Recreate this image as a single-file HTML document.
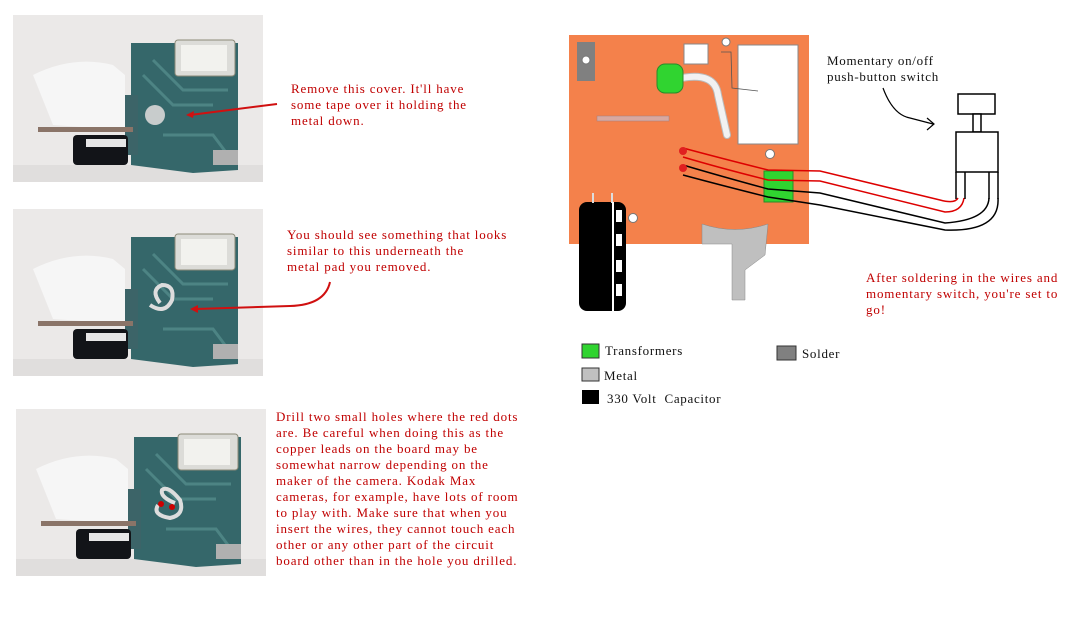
<!DOCTYPE html>
<html><head><meta charset="utf-8"><style>
body{margin:0;width:1083px;height:630px;background:#fff;overflow:hidden;position:relative;font-family:"Liberation Serif",serif;}
.t{position:absolute;font-size:13px;letter-spacing:0.85px;line-height:16px;color:#c00000;white-space:nowrap;}
.k{position:absolute;font-size:13px;letter-spacing:0.7px;color:#111;white-space:nowrap;}
</style></head><body>
<svg width="1083" height="630" style="position:absolute;left:0;top:0">
<defs>
<g id="ph">
<rect width="250" height="167" fill="#ebe9e8"/>
<path d="M20 60 Q60 40 100 50 L112 60 L112 115 L40 110 Z" fill="#f6f6f6"/>
<path d="M0 150 L250 150 L250 167 L0 167Z" fill="#e0dedd"/>
<path d="M118 28 L225 28 L225 155 L180 158 L118 150 Z" fill="#35676a"/>
<path d="M112 80 L125 80 L125 140 L112 140Z" fill="#3c6468"/>
<rect x="162" y="25" width="60" height="36" rx="3" fill="#dcdcd8" stroke="#8c8a78"/>
<rect x="168" y="30" width="46" height="26" fill="#f2f2ee"/>
<path d="M130 60 L160 90 L200 90 M140 45 L170 75 L215 75 M150 120 L200 120 L215 140" stroke="#4d8484" stroke-width="3" fill="none"/>
<rect x="25" y="112" width="95" height="5" fill="#8a7468"/>
<rect x="60" y="120" width="55" height="30" rx="4" fill="#121418"/>
<rect x="73" y="124" width="40" height="8" fill="#e6e6e6"/>
<rect x="200" y="135" width="25" height="15" fill="#b0b0b0"/>
</g>
</defs>
<use href="#ph" x="13" y="15"/>
<circle cx="155" cy="115" r="10" fill="#c8cccc"/>
<path d="M277 104 L190 115" stroke="#d01010" stroke-width="2"/>
<path d="M186 115 L194 111 L193 118Z" fill="#d01010"/>
<use href="#ph" x="13" y="209"/>
<path d="M160 303 Q150 290 162 285 Q175 285 172 300 Q165 315 150 305" stroke="#ddd" stroke-width="4" fill="none"/>
<path d="M330 282 Q325 305 290 306 L195 309" stroke="#d01010" stroke-width="2" fill="none"/>
<path d="M190 309 L198 305 L198 313Z" fill="#d01010"/>
<use href="#ph" x="16" y="409"/>
<path d="M175 503 Q160 497 162 490 Q168 485 180 500 Q185 515 170 518 Q152 515 158 505" stroke="#ddd" stroke-width="4" fill="none"/>
<circle cx="161" cy="504" r="3" fill="#c00"/><circle cx="172" cy="507" r="3" fill="#c00"/>

<path d="M569 35 L809 35 L809 244 L569 244 Z" fill="#f4814b"/>
<rect x="577" y="42" width="18" height="39" fill="#808080"/>
<circle cx="586" cy="60" r="4" fill="#fff" stroke="#777"/>
<rect x="684" y="44" width="24" height="20" fill="#fff" stroke="#888"/>
<rect x="738" y="45" width="60" height="99" fill="#fff" stroke="#888"/>
<path d="M721 52 L731 52 L732 88 L758 91" stroke="#555" stroke-width="0.8" fill="none"/>
<path d="M682 78 Q715 72 718 95 L727 135" stroke="#bbb" stroke-width="8" stroke-linecap="round" fill="none"/>
<path d="M682 78 Q715 72 718 95 L727 135" stroke="#f2f2f2" stroke-width="6" stroke-linecap="round" fill="none"/>
<rect x="657" y="64" width="26" height="29" rx="8" fill="#30d430" stroke="#2a8a2a"/>
<rect x="597" y="116" width="72" height="5" fill="#d8a8a0" stroke="#a08080" stroke-width="0.5"/>
<circle cx="726" cy="42" r="4" fill="#fff" stroke="#777"/>
<circle cx="770" cy="154" r="4.5" fill="#fff" stroke="#777"/>
<circle cx="633" cy="218" r="4.5" fill="#fff" stroke="#777"/>
<path d="M702 224 Q735 235 768 224 L765 255 L745 270 L745 300 L732 300 L732 244 L702 244Z" fill="#bfbfbf" stroke="#888" stroke-width="0.5"/>
<rect x="764" y="171" width="29" height="31" fill="#30d430" stroke="#2a8a2a"/>
<rect x="579" y="202" width="47" height="109" rx="8" fill="#000"/>
<rect x="592" y="193" width="2" height="10" fill="#ddd"/><rect x="611" y="193" width="2" height="10" fill="#ddd"/>
<rect x="612" y="202" width="2" height="109" fill="#fff"/>
<rect x="616" y="210" width="6" height="12" fill="#fff"/><rect x="616" y="234" width="6" height="12" fill="#fff"/><rect x="616" y="260" width="6" height="12" fill="#fff"/><rect x="616" y="284" width="6" height="12" fill="#fff"/>
<path d="M683 148 Q720 158 768 170 L820 171 L940 200 Q955 204 958 198" stroke="#d00" stroke-width="1.5" fill="none"/>
<path d="M683 157 Q720 168 768 180 L820 181 L945 212 Q962 212 964 198" stroke="#d00" stroke-width="1.5" fill="none"/>
<path d="M683 165 Q720 176 768 189 L820 193 L945 223 Q988 220 989 198" stroke="#000" stroke-width="1.5" fill="none"/>
<path d="M683 175 Q720 185 768 197 L820 205 L945 230 Q1000 232 998 198" stroke="#000" stroke-width="1.5" fill="none"/>
<circle cx="683" cy="151" r="4" fill="#e02020"/><circle cx="683" cy="168" r="4" fill="#e02020"/>
<rect x="958" y="94" width="37" height="20" fill="#fff" stroke="#000" stroke-width="1.5"/>
<rect x="973" y="114" width="8" height="18" fill="#fff" stroke="#000" stroke-width="1.5"/>
<rect x="956" y="132" width="42" height="40" fill="#fff" stroke="#000" stroke-width="1.5"/>
<path d="M956 172 L956 199 M965 172 L965 199 M989 172 L989 199 M998 172 L998 199" stroke="#000" stroke-width="1.5"/>
<path d="M883 88 Q893 115 910 118 L933 124" stroke="#000" stroke-width="1.2" fill="none"/>
<path d="M927 118 L934 124 L927 130" stroke="#000" stroke-width="1.2" fill="none"/>
<rect x="582" y="344" width="17" height="14" fill="#30d430" stroke="#333"/>
<rect x="582" y="368" width="17" height="13" fill="#c0c0c0" stroke="#333"/>
<rect x="582" y="390" width="17" height="14" fill="#000"/>
<rect x="777" y="346" width="19" height="14" fill="#808080" stroke="#333"/>
</svg>
<div class="t" style="left:291px;top:81px">Remove this cover. It'll have<br>some tape over it holding the<br>metal down.</div>
<div class="t" style="left:287px;top:227px">You should see something that looks<br>similar to this underneath the<br>metal pad you removed.</div>
<div class="t" style="left:276px;top:409px">Drill two small holes where the red dots<br>are. Be careful when doing this as the<br>copper leads on the board may be<br>somewhat narrow depending on the<br>maker of the camera. Kodak Max<br>cameras, for example, have lots of room<br>to play with. Make sure that when you<br>insert the wires, they cannot touch each<br>other or any other part of the circuit<br>board other than in the hole you drilled.</div>
<div class="t" style="left:866px;top:270px">After soldering in the wires and<br>momentary switch, you're set to<br>go!</div>
<div class="k" style="left:827px;top:53px;line-height:16px">Momentary on/off<br>push-button switch</div>
<div class="k" style="left:605px;top:343px">Transformers</div>
<div class="k" style="left:604px;top:368px">Metal</div>
<div class="k" style="left:607px;top:391px">330 Volt &nbsp;Capacitor</div>
<div class="k" style="left:802px;top:346px">Solder</div>
</body></html>
